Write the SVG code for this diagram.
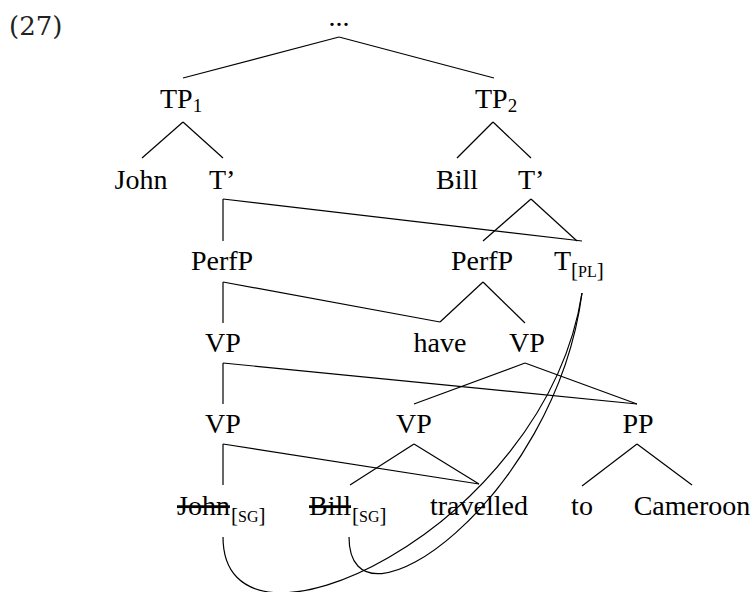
<svg xmlns="http://www.w3.org/2000/svg" width="754" height="592" viewBox="0 0 754 592">
<style>
  text { font-family: "Liberation Serif", "Times New Roman", serif; font-size: 28px; fill: #000; }
  .mid { text-anchor: middle; }
  .sub { font-size: 19px; }
  .br { font-size: 21px; }
  .sc { font-size: 16px; }
  .strike { text-decoration: line-through; }
  .num { font-family: "DejaVu Serif", serif; font-size: 26px; fill: #222; }
  #connectors line, #connectors path { stroke: #000; stroke-width: 1.2; fill: none; }
</style>
<rect width="754" height="592" fill="#fff"/>
<text class="num" x="9" y="35">(27)</text>
<g id="connectors">
  <line x1="339" y1="37" x2="183" y2="78"/>
  <line x1="339" y1="37" x2="494" y2="78"/>
  <line x1="183" y1="122" x2="142" y2="158"/>
  <line x1="183" y1="122" x2="223" y2="158"/>
  <line x1="493" y1="122" x2="457" y2="158"/>
  <line x1="493" y1="122" x2="531" y2="158"/>
  <line x1="223" y1="199" x2="223" y2="241"/>
  <line x1="223" y1="199" x2="582" y2="241"/>
  <line x1="531" y1="199" x2="483" y2="241"/>
  <line x1="531" y1="199" x2="577" y2="241"/>
  <line x1="223" y1="282" x2="223" y2="323"/>
  <line x1="223" y1="282" x2="440" y2="322"/>
  <line x1="483" y1="282" x2="440" y2="322"/>
  <line x1="483" y1="282" x2="525" y2="323"/>
  <line x1="223" y1="363" x2="223" y2="404"/>
  <line x1="223" y1="363" x2="637" y2="404"/>
  <line x1="525" y1="363" x2="414" y2="404"/>
  <line x1="525" y1="363" x2="637" y2="404"/>
  <line x1="223" y1="444" x2="223" y2="485"/>
  <line x1="223" y1="444" x2="479" y2="484"/>
  <line x1="414" y1="444" x2="350" y2="485"/>
  <line x1="414" y1="444" x2="479" y2="484"/>
  <line x1="637" y1="444" x2="582" y2="486"/>
  <line x1="637" y1="444" x2="692" y2="485"/>
  <path d="M223,537 C223,680 545,530 582,293"/>
  <path d="M349,537 C349,645 555,500 582,293"/>
</g>
<g id="n-root"><text class="mid" x="339" y="26">...</text></g>
<g id="n-tp1"><text x="160" y="108">TP<tspan class="sub" dy="4">1</tspan></text></g>
<g id="n-tp2"><text x="475" y="108">TP<tspan class="sub" dy="4">2</tspan></text></g>
<g id="n-john1"><text class="mid" x="141" y="189">John</text></g>
<g id="n-tbar1"><text x="209" y="189">T’</text></g>
<g id="n-bill1"><text class="mid" x="457" y="189">Bill</text></g>
<g id="n-tbar2"><text x="518" y="189">T’</text></g>
<g id="n-perfp1"><text class="mid" x="222" y="270">PerfP</text></g>
<g id="n-perfp2"><text class="mid" x="482" y="270">PerfP</text></g>
<g id="n-tpl"><text x="554" y="270">T<tspan class="br" dy="7">[<tspan class="sc">PL</tspan>]</tspan></text></g>
<g id="n-vp1"><text class="mid" x="223" y="352">VP</text></g>
<g id="n-have"><text class="mid" x="440" y="352">have</text></g>
<g id="n-vp2"><text class="mid" x="527" y="352">VP</text></g>
<g id="n-vp3"><text class="mid" x="223" y="433">VP</text></g>
<g id="n-vp4"><text class="mid" x="414" y="433">VP</text></g>
<g id="n-pp"><text class="mid" x="638" y="433">PP</text></g>
<g id="n-john2"><text class="strike" x="177" y="515">John</text><text class="br" x="231" y="522">[<tspan class="sc">SG</tspan>]</text></g>
<g id="n-bill2"><text class="strike" x="309" y="515">Bill</text><text class="br" x="352" y="522">[<tspan class="sc">SG</tspan>]</text></g>
<g id="n-travelled"><text class="mid" x="479" y="515">travelled</text></g>
<g id="n-to"><text class="mid" x="582" y="515">to</text></g>
<g id="n-cameroon"><text class="mid" x="692" y="515">Cameroon</text></g>
</svg>
